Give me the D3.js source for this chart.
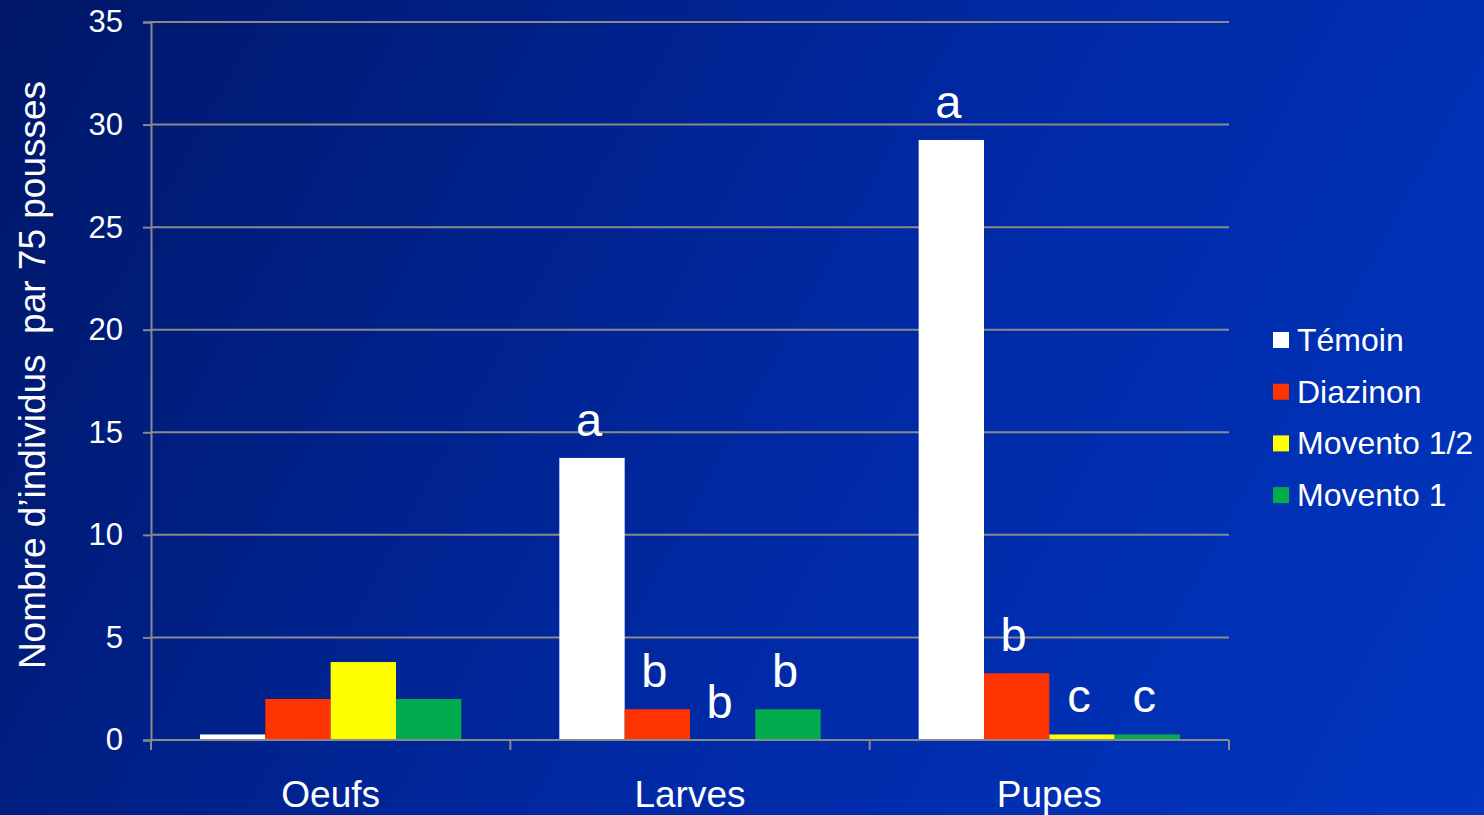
<!DOCTYPE html>
<html>
<head>
<meta charset="utf-8">
<script src="https://cdn.jsdelivr.net/npm/d3@7"></script>
<style>
  html, body { margin: 0; padding: 0; overflow: hidden; }
  svg { display: block; font-family: "Liberation Sans", Arial, sans-serif; }
</style>
</head>
<body>
<svg id="chart"></svg>
<script>
const width = 1484;
const height = 815;

// data
const stages = ["Oeufs", "Larves", "Pupes"];
const treatments = ["Témoin", "Diazinon", "Movento 1/2", "Movento 1"];
const temoin = [0.27, 13.75, 29.25];
const diazinon = [2, 1.5, 3.25];
const moventoHalf = [3.8, 0, 0.27];
const moventoOne = [2, 1.5, 0.27];
// significance letters per stage, per treatment ("" = none)
const letters = [
    ["", "", "", ""],
    ["a", "b", "b", "b"],
    ["a", "b", "c", "c"]
];
const yTicks = [0, 5, 10, 15, 20, 25, 30, 35];

const colors = ["#ffffff", "#ff3300", "#ffff00", "#00ac4e"];
const seriesValues = [temoin, diazinon, moventoHalf, moventoOne];

const margin = { top: 22, right: 255, bottom: 75, left: 151 };

const svg = d3.select("#chart").attr("width", width).attr("height", height);

// background gradient
const defs = svg.append("defs");
const grad = defs.append("linearGradient")
    .attr("id", "bg")
    .attr("gradientUnits", "userSpaceOnUse")
    .attr("x1", 0).attr("y1", 0).attr("x2", width).attr("y2", height);
grad.append("stop").attr("offset", "0%").attr("stop-color", "#001768");
grad.append("stop").attr("offset", "55%").attr("stop-color", "#0029a4");
grad.append("stop").attr("offset", "100%").attr("stop-color", "#0036c0");
svg.append("rect").attr("width", width).attr("height", height).attr("fill", "url(#bg)");

const x = d3.scaleBand()
    .domain(stages)
    .range([margin.left, width - margin.right]);

const xInner = d3.scaleBand()
    .domain(treatments)
    .range([0, x.bandwidth()])
    .paddingInner(0)
    .paddingOuter(0.75);

const y = d3.scaleLinear()
    .domain([0, 35])
    .range([height - margin.bottom, margin.top]);

const gridColor = "#8a8a8a";

// gridlines
svg.append("g")
    .selectAll("line")
    .data(yTicks.filter(d => d > 0))
    .join("line")
    .attr("x1", margin.left)
    .attr("x2", width - margin.right)
    .attr("y1", d => y(d))
    .attr("y2", d => y(d))
    .attr("stroke", gridColor)
    .attr("stroke-width", 2);

// y axis
const yAxis = svg.append("g")
    .attr("transform", `translate(${margin.left},0)`)
    .call(d3.axisLeft(y).tickValues(yTicks).tickSize(8).tickPadding(20));
yAxis.select(".domain").attr("stroke", gridColor).attr("stroke-width", 2);
yAxis.selectAll(".tick line").attr("stroke", gridColor).attr("stroke-width", 2);
yAxis.selectAll(".tick text")
    .attr("fill", "#ffffff")
    .attr("font-size", 31)
    .attr("font-family", "Liberation Sans, Arial, sans-serif");

// bars
const groups = svg.append("g")
    .selectAll("g")
    .data(stages)
    .join("g")
    .attr("transform", d => `translate(${x(d)},0)`);

groups.selectAll("rect")
    .data((s, i) => treatments.map((t, k) => ({ t, k, v: seriesValues[k][i] })))
    .join("rect")
    .attr("x", d => xInner(d.t))
    .attr("width", xInner.bandwidth())
    .attr("y", d => y(d.v))
    .attr("height", d => y(0) - y(d.v))
    .attr("fill", d => colors[d.k]);

// letters
groups.selectAll("text.sig")
    .data((s, i) => treatments.map((t, k) => ({ t, k, v: seriesValues[k][i], l: letters[i][k] })))
    .join("text")
    .attr("class", "sig")
    .attr("x", d => xInner(d.t) + xInner.bandwidth() / 2 - 3)
    .attr("y", d => y(d.v) - 22)
    .attr("text-anchor", "middle")
    .attr("fill", "#ffffff")
    .attr("font-size", 47)
    .text(d => d.l);

// x axis
const xAxisG = svg.append("g")
    .attr("transform", `translate(0,${y(0)})`);
xAxisG.append("line")
    .attr("x1", margin.left).attr("x2", width - margin.right)
    .attr("stroke", gridColor).attr("stroke-width", 2);
xAxisG.selectAll("line.tk")
    .data(stages.map(s => x(s)).concat([x(stages[stages.length - 1]) + x.bandwidth()]))
    .join("line")
    .attr("class", "tk")
    .attr("x1", d => d).attr("x2", d => d)
    .attr("y1", 0).attr("y2", 10)
    .attr("stroke", gridColor).attr("stroke-width", 2);
xAxisG.selectAll("text")
    .data(stages)
    .join("text")
    .attr("x", d => x(d) + x.bandwidth() / 2)
    .attr("y", 67)
    .attr("text-anchor", "middle")
    .attr("fill", "#ffffff")
    .attr("font-size", 37)
    .text(d => d);

// y title
svg.append("text")
    .attr("transform", `translate(45,${375}) rotate(-90)`)
    .attr("text-anchor", "middle")
    .attr("fill", "#ffffff")
    .attr("font-size", 37)
    .style("white-space", "pre")
    .text("Nombre d\u2019individus  par 75 pousses");

// legend
const legend = svg.append("g")
    .attr("transform", "translate(1273,340)")
    .selectAll("g")
    .data(treatments)
    .join("g")
    .attr("transform", (d, i) => `translate(0,${i * 51.7})`);
legend.append("rect")
    .attr("x", 0).attr("y", -8)
    .attr("width", 16).attr("height", 16)
    .attr("fill", (d, i) => colors[i]);
legend.append("text")
    .attr("x", 24)
    .attr("y", 11)
    .attr("fill", "#ffffff")
    .attr("font-size", 32)
    .text(d => d);
</script>
</body>
</html>
